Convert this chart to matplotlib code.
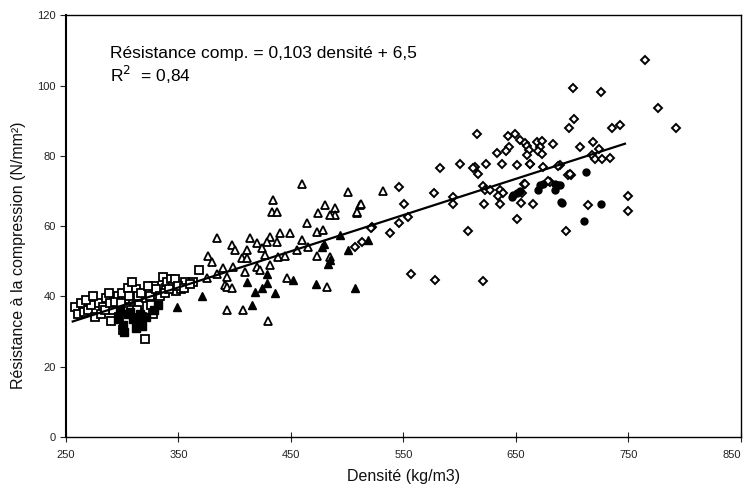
import matplotlib
matplotlib.use("Agg")
import matplotlib.pyplot as plt
import numpy as np

plt.rcParams['font.family'] = ['Liberation Sans', 'DejaVu Sans']

# open squares
sq_x = [258, 261, 263, 266, 270, 272, 276, 279, 283, 286, 288, 290, 292, 296, 297, 300, 301, 303,
        305, 308, 310, 312, 314, 315, 318, 321, 325, 327, 328, 330, 332, 336, 339, 340, 343, 345,
        348, 352, 356, 363, 368, 320,
        268, 274, 281, 285, 289, 294, 299, 306, 309, 313, 317, 323, 326, 334, 338, 342, 347, 350,
        355, 360]
sq_y = [37, 35, 38, 35.5, 36, 37.5, 34, 38, 37, 39.5, 41, 33, 36, 40, 34, 41, 30.5, 37,
        42.5, 36, 39, 42, 40, 37.5, 34, 39.5, 40, 35, 43, 42, 38, 45.5, 42.5, 44, 45, 43,
        41.5, 42, 44, 44, 47.5, 28,
        39, 40, 35, 36, 38, 38.5, 38, 40, 44, 36, 41, 43, 37.5, 40, 41, 42, 45, 43,
        42.5, 43.5]

# filled squares
fsq_x = [296, 298, 301, 302, 305, 307, 310, 312, 314, 316, 318, 321, 328, 332]
fsq_y = [33.5, 36, 32, 30, 35, 35.5, 33.5, 31, 33, 35, 31.5, 34, 36, 37.5]

# open triangles
tri_x = [459.5, 500.7, 433.7, 433, 438, 480.3, 474.3, 489, 489, 484.7, 464.5, 383.9, 413.6, 449.1,
         440, 431.4, 428.4, 437.3, 459.5, 472.9, 478.8, 397.3, 400.2, 410.6, 419.5, 424, 426.9,
         376.5, 379.5, 389.8, 398.7, 406.2, 410.6, 409.1, 419.5, 422.5, 431.4, 438.7, 444.7, 455.1,
         465.4, 472.9, 392.9, 391.3, 446.2, 392.9, 397.3, 481.7, 392.9, 407.6, 429.8, 375, 384,
         532, 511.4, 508.4, 512, 509, 484.7]
tri_y = [72, 69.7, 67.4, 64.1, 64.1, 66, 63.6, 65.1, 63.1, 63.1, 60.9, 56.5, 56.5, 57.9,
         58, 57, 55.5, 55.5, 56, 58.4, 58.9, 54.6, 53.2, 53.2, 55.1, 53.7, 51.7,
         51.5, 49.8, 48, 48.4, 50.8, 50.8, 47, 48.4, 47.5, 48.9, 51.3, 51.5, 53.2,
         54.1, 51.5, 45.6, 43.2, 45.1, 42.7, 42.3, 42.7, 36.1, 36.1, 33.1, 45.1, 46.5,
         70, 66, 63.6, 66.3, 63.9, 51.3]

# filled triangles
ftri_x = [348.7, 370.6, 410.6, 428.4, 428.9, 424, 418, 435.8, 415.1, 452.1, 472.2, 484.7, 483.2,
          477.3, 479.4, 493.6, 501, 507, 518.7]
ftri_y = [37, 40.1, 44.2, 46.5, 43.9, 42.3, 41.3, 40.9, 37.5, 44.6, 43.5, 50.3, 49.2,
          54.1, 54.9, 57.4, 53.2, 42.3, 56]

# open diamonds
dia_x = [582.5, 600.3, 613.6, 616.5, 623.4, 637.3, 650.6, 662.5, 674.3, 546.3, 577.2, 593.8, 594.3,
         550.7, 554.3, 546.3, 538, 521.8, 607.6, 621, 622.5, 635.8, 638.8, 634.3, 635.8, 621.6,
         657.2, 655.1, 654.5, 665.4, 650.6, 680.3, 696.5, 694.5, 556.7, 578, 621,
         764.7, 700.4, 725.3, 776, 701.6, 697.5, 735.7, 742.5, 792.3, 707, 718.8, 724.1, 717.3,
         720.3, 726.2, 733.6, 689, 698.9, 749.9, 749.9, 714.3,
         615.6, 643.2, 649.2, 653.6, 658, 660.1, 668.4, 672.9, 671.4, 669.9, 682.6, 644.1, 641.2,
         633.4, 661.8, 672.9, 659.5, 662.5, 612, 687.6, 698.5, 627, 658, 678.8,
         520.9, 512.9, 507]
dia_y = [76.4, 77.8, 76.7, 74.8, 77.6, 77.8, 77.3, 77.6, 76.7, 71.2, 69.5, 68.3, 66.3,
         66.3, 62.6, 60.9, 57.9, 59.8, 58.7, 71.4, 70.4, 70.2, 69.5, 68.5, 66.4, 66.3,
         71.9, 69.3, 66.7, 66.4, 62.1, 72.6, 74.5, 58.7, 46.5, 44.8, 44.4,
         107.4, 99.3, 98.2, 93.6, 90.6, 87.8, 87.8, 88.9, 87.9, 82.4, 83.8, 81.8, 80.2,
         79, 79, 79.5, 77.3, 74.5, 68.6, 64.3, 66,
         86.3, 85.6, 86.2, 84.6, 83.7, 82.7, 84, 84.3, 82.6, 81.4, 83.3, 82.6, 81.4,
         80.9, 81.6, 80.6, 80.2, 77.8, 76.4, 77, 74.8, 70.4, 72.1, 72.9,
         59.6, 55.5, 54.1]

# filled circles
cir_x = [647.6, 650.6, 653.6, 647, 671.4, 674.3, 669.9, 684.7, 687.6, 684.7, 690.1, 712.3, 725.3,
         710.5, 690.7, 689]
cir_y = [68.8, 69.3, 70, 68.2, 71.7, 72.1, 70.4, 72.1, 71.7, 70.2, 66.9, 75.4, 66.4,
         61.4, 66.7, 71.7]

# regression
slope = 0.103
intercept = 6.5
line_x = [256, 747]

fig = plt.figure(figsize=(7.44, 4.91), dpi=100)
ax = fig.add_axes([0.0887, 0.110, 0.907, 0.859])

ax.plot(sq_x, sq_y, ls='none', marker='s', ms=6, mfc='white', mec='black', mew=1.3)
ax.plot(fsq_x, fsq_y, ls='none', marker='s', ms=6, mfc='black', mec='black', mew=1.0)
ax.plot(tri_x, tri_y, ls='none', marker='^', ms=5.5, mfc='white', mec='black', mew=1.3)
ax.plot(ftri_x, ftri_y, ls='none', marker='^', ms=5.5, mfc='black', mec='black', mew=1.0)
ax.plot(dia_x, dia_y, ls='none', marker='D', ms=4.2, mfc='white', mec='black', mew=1.4)
ax.plot(cir_x, cir_y, ls='none', marker='o', ms=5, mfc='black', mec='black', mew=1.0)

lx = np.array(line_x)
ax.plot(lx, slope * lx + intercept, color='black', lw=1.6)

ax.set_xlim(250, 850)
ax.set_ylim(0, 120)
ax.set_xticks([250, 350, 450, 550, 650, 750, 850])
ax.set_yticks([0, 20, 40, 60, 80, 100, 120])
ax.tick_params(axis='x', direction='inout', length=7, labelsize=8, colors='#222222', pad=6)
ax.tick_params(axis='y', direction='out', length=4, labelsize=8, colors='#222222')
xlabels = ax.get_xticklabels()
xlabels[-1].set_horizontalalignment('right')
for s in ax.spines.values():
    s.set_linewidth(1.0)
ax.spines['left'].set_linewidth(1.5)

ax.set_xlabel('Densité (kg/m3)', fontsize=11.5, labelpad=6, color='#111111')
ax.set_ylabel('Résistance à la compression (N/mm²)', fontsize=11.5, color='#111111')
ax.yaxis.set_label_coords(-0.06, 0.43)

ax.text(0.065, 0.927, 'Résistance comp. = 0,103 densité + 6,5', transform=ax.transAxes,
        fontsize=12.5, va='top', ha='left')
ax.text(0.065, 0.885, 'R$^2$  = 0,84', transform=ax.transAxes,
        fontsize=12.5, va='top', ha='left')

fig.savefig('out.png', dpi=100)
